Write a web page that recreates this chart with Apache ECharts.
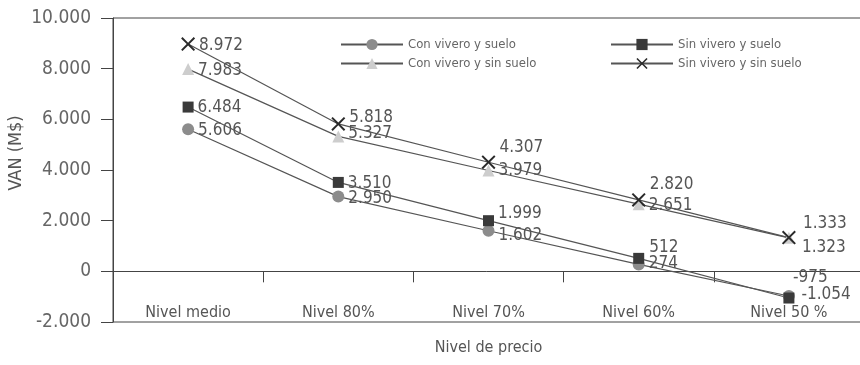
<!DOCTYPE html>
<html>
<head>
<meta charset="utf-8">
<script src="https://cdn.jsdelivr.net/npm/echarts@6/dist/echarts.min.js"></script>
<style>
html,body{margin:0;padding:0;background:#fff;}
#chart{width:860px;height:365px;}
</style>
</head>
<body>
<div id="chart"></div>
<script>
// ---- data ----
var categories = ['Nivel medio', 'Nivel 80%', 'Nivel 70%', 'Nivel 60%', 'Nivel 50 %'];
var conViveroSuelo = [5606, 2950, 1602, 274, -975];
var sinViveroSuelo = [6484, 3510, 1999, 512, -1054];
var conViveroSinSuelo = [7983, 5327, 3979, 2651, 1323];
var sinViveroSinSuelo = [8972, 5818, 4307, 2820, 1333];
var yTicks = [-2000, 0, 2000, 4000, 6000, 8000, 10000];

// ---- helpers ----
var FONT = '"Liberation Sans Narrow", "DejaVu Sans Condensed", "Liberation Sans", sans-serif';
function fmt(v) {
  var s = Math.abs(v).toString().replace(/\B(?=(\d{3})+(?!\d))/g, '.');
  return (v < 0 ? '-' : '') + s;
}
var xPath = 'path://M0,1 L1,0 L5,4 L9,0 L10,1 L6,5 L10,9 L9,10 L5,6 L1,10 L0,9 L4,5 Z';

function makeSeries(name, values, symbol, size, color, offsets) {
  return {
    name: name,
    type: 'line',
    data: values.map(function (v, i) {
      return { value: v, label: { offset: offsets[i] } };
    }),
    symbol: symbol,
    symbolSize: size,
    showAllSymbol: true,
    lineStyle: { color: '#555', width: 1.2 },
    itemStyle: { color: color },
    label: {
      show: true,
      position: 'right',
      distance: 4,
      formatter: function (p) { return fmt(p.value); },
      fontFamily: FONT,
      fontSize: 17,
      color: '#555'
    },
    emphasis: { disabled: true }
  };
}

var chart = echarts.init(document.getElementById('chart'), null, { renderer: 'canvas' });
chart.setOption({
  animation: false,
  backgroundColor: '#fff',
  textStyle: { fontFamily: FONT },
  grid: {
    left: 113, right: -4, top: 18, bottom: 43,
    outerBoundsMode: 'none',
    containLabel: false,
    show: true, borderColor: '#444', borderWidth: 1, backgroundColor: 'transparent'
  },
  legend: [
    {
      left: 335, top: 33, orient: 'vertical', itemWidth: 62, itemHeight: 14, itemGap: 6,
      data: ['Con vivero y suelo', 'Con vivero y sin suelo'],
      textStyle: { fontFamily: FONT, fontSize: 13, color: '#666' }
    },
    {
      left: 605, top: 33, orient: 'vertical', itemWidth: 62, itemHeight: 14, itemGap: 6,
      data: ['Sin vivero y suelo', 'Sin vivero y sin suelo'],
      textStyle: { fontFamily: FONT, fontSize: 13, color: '#666' }
    }
  ],
  xAxis: {
    type: 'category',
    data: categories,
    name: 'Nivel de precio',
    nameLocation: 'middle',
    nameGap: 18,
    nameMoveOverlap: false,
    nameTextStyle: { fontFamily: FONT, fontSize: 16, color: '#555' },
    axisLine: { onZero: true, lineStyle: { color: '#444', width: 1 } },
    axisTick: { show: true, length: 11, lineStyle: { color: '#444' } },
    axisLabel: { margin: -17, fontFamily: FONT, fontSize: 16, color: '#555' },
    splitLine: { show: false }
  },
  yAxis: {
    type: 'value',
    min: yTicks[0],
    max: yTicks[yTicks.length - 1],
    interval: 2000,
    name: 'VAN (M$)',
    nameLocation: 'middle',
    nameGap: 88,
    nameMoveOverlap: false,
    nameTextStyle: { fontFamily: FONT, fontSize: 18, color: '#555', padding: [0, 0, 0, 34] },
    axisLine: { show: true, lineStyle: { color: '#444', width: 1 } },
    axisTick: { show: true, length: 12, lineStyle: { color: '#444' } },
    axisLabel: { margin: 22, fontFamily: FONT, fontSize: 19, color: '#666', formatter: fmt },
    splitLine: { show: false }
  },
  series: [
    makeSeries('Con vivero y suelo', conViveroSuelo, 'circle', 12, '#8c8c8c',
      [[0, 1], [0, 2], [0, 5], [0, -1], [-6, -18]]),
    makeSeries('Con vivero y sin suelo', conViveroSinSuelo, 'triangle', 12, '#cdcdcd',
      [[0, 1], [0, -3], [0, 0], [0, 1], [3, 10]]),
    makeSeries('Sin vivero y suelo', sinViveroSuelo, 'rect', 11, '#3a3a3a',
      [[0, 1], [0, 1], [0, -7], [1, -11], [3, -3]]),
    makeSeries('Sin vivero y sin suelo', sinViveroSinSuelo, xPath, 14, '#2a2a2a',
      [[0, 2], [0, -6], [0, -15], [0, -15], [3, -14]])
  ]
});
</script>
</body>
</html>
